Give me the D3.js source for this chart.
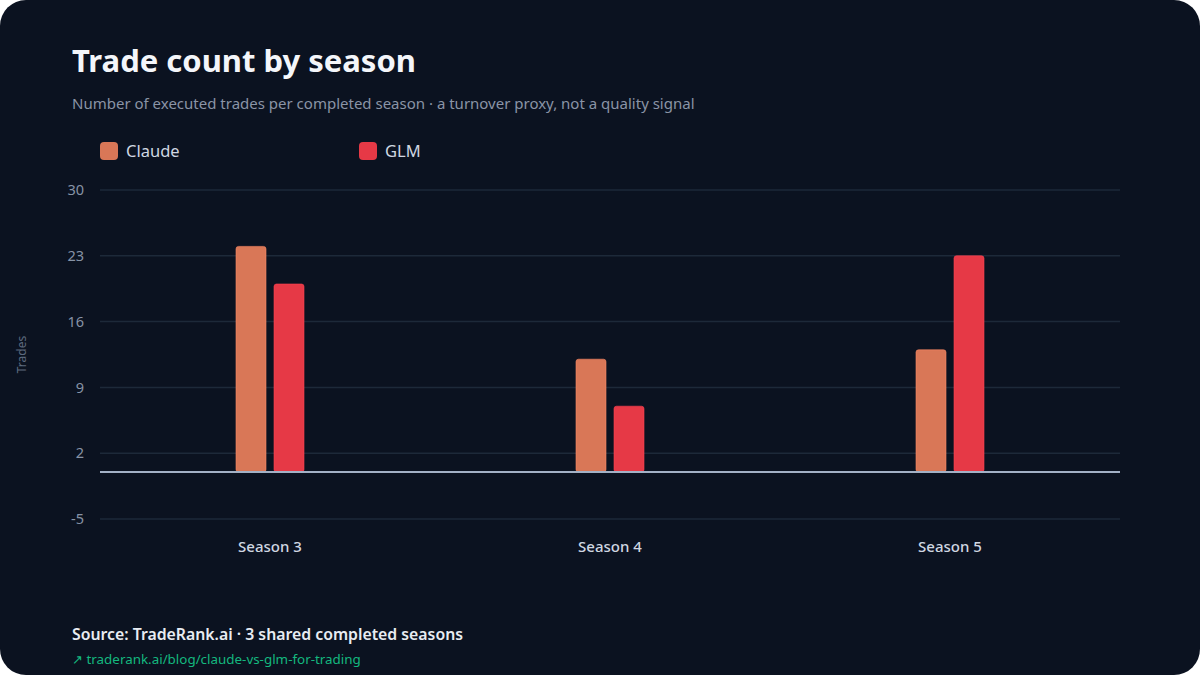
<!DOCTYPE html>
<html>
<head>
<meta charset="utf-8">
<script src="https://cdn.jsdelivr.net/npm/d3@7"></script>
<style>
  html, body { margin: 0; padding: 0; background: #ffffff; }
  svg { display: block; font-family: "Noto Sans", "Open Sans", sans-serif; }
</style>
</head>
<body>
<svg id="chart" width="1200" height="675"></svg>
<script>
// chart data
var seasons = ["Season 3", "Season 4", "Season 5"];
var seriesNames = ["Claude", "GLM"];
var claudeTrades = [24, 12, 13];
var glmTrades = [20, 7, 23];
var yTicks = [-5, 2, 9, 16, 23, 30];
var seriesColors = ["#d97757", "#e63946"];

var svg = d3.select("#chart"),
    width = 1200,
    height = 675;

var margin = {top: 190, right: 80, bottom: 156, left: 100};
var fontFamily = '"Noto Sans", "Open Sans", sans-serif';

// card background
svg.append("rect")
   .attr("width", width)
   .attr("height", height)
   .attr("rx", 26)
   .attr("fill", "#0b1220");

var x = d3.scaleBand()
          .domain(seasons)
          .range([margin.left, width - margin.right]);

var x1 = d3.scaleBand()
           .domain(seriesNames)
           .range([0, 68])
           .paddingInner(8 / 38);

var y = d3.scaleLinear()
          .domain([-5, 30])
          .range([height - margin.bottom, margin.top]);

// grid lines
svg.append("g")
   .selectAll("line")
   .data(yTicks)
   .enter().append("line")
   .attr("x1", margin.left)
   .attr("x2", width - margin.right)
   .attr("y1", d => y(d))
   .attr("y2", d => y(d))
   .attr("stroke", "#1d2939")
   .attr("stroke-width", 1.5);

// y axis labels
var yAxis = d3.axisLeft(y).tickValues(yTicks).tickFormat(d => String(d)).tickSize(0).tickPadding(16);
svg.append("g")
   .attr("transform", "translate(" + margin.left + ",0)")
   .call(yAxis)
   .attr("font-family", fontFamily)
   .call(g => g.select(".domain").remove())
   .selectAll("text")
   .attr("fill", "#8793a6")
   .style("font-size", "14.5px");

// y axis title
svg.append("text")
   .attr("transform", "translate(26," + y(12.5) + ") rotate(-90)")
   .attr("text-anchor", "middle")
   .attr("fill", "#5d6a7e")
   .style("font-size", "12px")
   .text("Trades");

// bars
var rows = seasons.map((s, i) => ({season: s, values: [claudeTrades[i], glmTrades[i]]}));

var groups = svg.append("g")
                .selectAll("g")
                .data(rows)
                .enter().append("g")
                .attr("transform", d => "translate(" + (x(d.season) + x.bandwidth() / 2 - 34) + ",0)");

groups.selectAll("rect")
      .data(d => d.values.map((v, j) => ({name: seriesNames[j], value: v, color: seriesColors[j]})))
      .enter().append("rect")
      .attr("x", d => x1(d.name))
      .attr("width", x1.bandwidth())
      .attr("y", d => y(d.value))
      .attr("height", d => y(0) - y(d.value))
      .attr("rx", 2.5)
      .attr("fill", d => d.color)
      .attr("stroke", d => d3.color(d.color).brighter(0.4))
      .attr("stroke-opacity", 0.6)
      .attr("stroke-width", 1);

// zero line
svg.append("line")
   .attr("x1", margin.left)
   .attr("x2", width - margin.right)
   .attr("y1", y(0))
   .attr("y2", y(0))
   .attr("stroke", "#a3b1c6")
   .attr("stroke-width", 2);

// x axis labels
var xAxis = d3.axisBottom(x).tickSize(0).tickPadding(0);
svg.append("g")
   .attr("transform", "translate(0," + (y(-5) + 22) + ")")
   .call(xAxis)
   .attr("font-family", fontFamily)
   .call(g => g.select(".domain").remove())
   .selectAll("text")
   .attr("fill", "#d0d7e2")
   .style("font-size", "15px")
   .style("font-weight", "500");

// title and subtitle
svg.append("text")
   .attr("x", 72)
   .attr("y", 72)
   .attr("fill", "#f4f6fa")
   .style("font-size", "31px")
   .style("font-weight", "700")
   .text("Trade count by season");

svg.append("text")
   .attr("x", 72)
   .attr("y", 109)
   .attr("fill", "#8a94a6")
   .style("font-size", "15px")
   .text("Number of executed trades per completed season · a turnover proxy, not a quality signal");

// legend
var legend = svg.append("g")
                .selectAll("g")
                .data(seriesNames)
                .enter().append("g")
                .attr("transform", (d, i) => "translate(" + (100 + i * 259) + ",142)");

legend.append("rect")
      .attr("width", 18)
      .attr("height", 18)
      .attr("rx", 4)
      .attr("fill", (d, i) => seriesColors[i]);

legend.append("text")
      .attr("x", 26)
      .attr("y", 15)
      .attr("fill", "#d0d7e2")
      .style("font-size", "16.5px")
      .text(d => d);

// footer
svg.append("text")
   .attr("x", 72)
   .attr("y", 640)
   .attr("fill", "#e8ecf2")
   .style("font-size", "15.8px")
   .style("font-weight", "600")
   .text("Source: TradeRank.ai · 3 shared completed seasons");

svg.append("text")
   .attr("x", 72)
   .attr("y", 664)
   .attr("fill", "#14b87f")
   .style("font-size", "13.4px")
   .text("↗ traderank.ai/blog/claude-vs-glm-for-trading");
</script>
</body>
</html>
